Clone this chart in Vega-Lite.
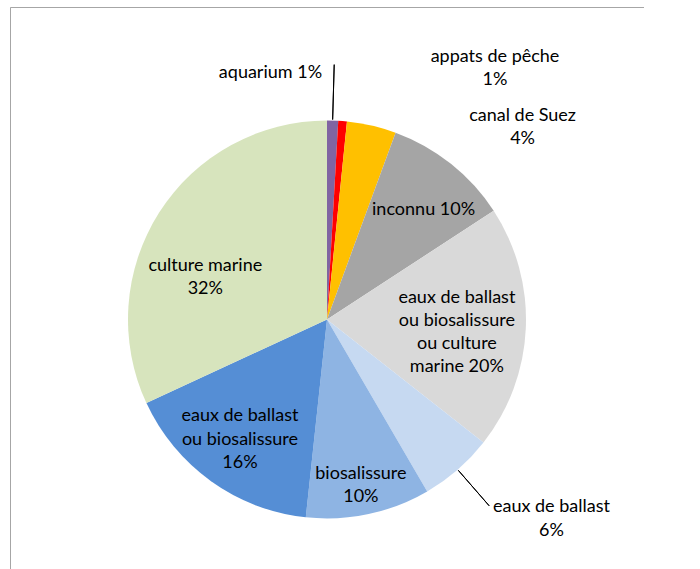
{
  "$schema": "https://vega.github.io/schema/vega-lite/v6.json",
  "usermeta": {"embedOptions": {"actions": false}},
  "autosize": {"type": "none"},
  "padding": {"left": 10, "top": 7, "right": 0, "bottom": 0},
  "width": 634,
  "height": 625,
  "view": {"stroke": "#A6A6A6", "strokeWidth": 1, "strokeDash": [634, 1259, 625]},
  "background": "white",
  "data": {
    "values": [
      {"source": "aquarium", "value": 0.9, "label": "aquarium 1%"},
      {"source": "appats de pêche", "value": 0.7, "label": "appats de pêche\n1%"},
      {"source": "canal de Suez", "value": 4.0, "label": "canal de Suez\n4%"},
      {"source": "inconnu", "value": 10.2, "label": "inconnu 10%"},
      {"source": "eaux de ballast ou biosalissure ou culture marine", "value": 19.8, "label": "eaux de ballast\nou biosalissure\nou culture\nmarine 20%"},
      {"source": "eaux de ballast", "value": 6.0, "label": "eaux de ballast\n6%"},
      {"source": "biosalissure", "value": 10.1, "label": "biosalissure\n10%"},
      {"source": "eaux de ballast ou biosalissure", "value": 16.4, "label": "eaux de ballast\nou biosalissure\n16%"},
      {"source": "culture marine", "value": 31.9, "label": "culture marine\n32%"}
    ]
  },
  "transform": [
    {"stack": "value", "groupby": [], "as": ["v0", "v1"]},
    {"calculate": "(datum.v0 + datum.v1) / 2", "as": "mid"}
  ],
  "layer": [
    {
      "mark": {"type": "arc", "radius": 199},
      "encoding": {
        "theta": {"field": "v0", "type": "quantitative", "scale": {"domain": [0, 100], "range": [0, 6.283185307]}},
        "theta2": {"field": "v1"},
        "color": {
          "field": "source", "type": "nominal", "legend": null,
          "scale": {
            "domain": ["aquarium", "appats de pêche", "canal de Suez", "inconnu", "eaux de ballast ou biosalissure ou culture marine", "eaux de ballast", "biosalissure", "eaux de ballast ou biosalissure", "culture marine"],
            "range": ["#8064A2", "#FF0000", "#FFC000", "#A5A5A5", "#D9D9D9", "#C6D9F1", "#8EB4E3", "#558ED5", "#D7E4BD"]
          }
        }
      }
    },
    {
      "transform": [{"filter": "datum.source == 'aquarium'"}],
      "mark": {"type": "arc", "radius": 255, "radius2": 200, "fillOpacity": 0, "stroke": "#000000", "strokeWidth": 1},
      "encoding": {
        "theta": {"field": "mid", "type": "quantitative", "stack": null, "scale": {"domain": [0, 100], "range": [0, 6.283185307]}},
        "theta2": {"field": "mid"}
      }
    },
    {
      "transform": [{"filter": "datum.source == 'eaux de ballast'"}],
      "mark": {"type": "arc", "radius": 247, "radius2": 200, "fillOpacity": 0, "stroke": "#000000", "strokeWidth": 1},
      "encoding": {
        "theta": {"field": "mid", "type": "quantitative", "stack": null, "scale": {"domain": [0, 100], "range": [0, 6.283185307]}},
        "theta2": {"field": "mid"}
      }
    },
    {
      "transform": [{"filter": "datum.source == 'aquarium'"}],
      "mark": {"type": "text", "radius": 250, "dx": -12, "dy": 3, "align": "right", "baseline": "middle", "font": "Lato", "fontSize": 18, "lineBreak": "\n", "lineHeight": 23, "fill": "#000000"},
      "encoding": {"theta": {"field": "mid", "type": "quantitative", "stack": null, "scale": {"domain": [0, 100], "range": [0, 6.283185307]}}, "text": {"field": "label"}}
    },
    {
      "transform": [{"filter": "datum.source == 'appats de pêche'"}],
      "mark": {"type": "text", "radius": 255, "dx": 148, "dy": -8, "align": "center", "baseline": "middle", "font": "Lato", "fontSize": 18, "lineBreak": "\n", "lineHeight": 23, "fill": "#000000"},
      "encoding": {"theta": {"field": "mid", "type": "quantitative", "stack": null, "scale": {"domain": [0, 100], "range": [0, 6.283185307]}}, "text": {"field": "label"}}
    },
    {
      "transform": [{"filter": "datum.source == 'canal de Suez'"}],
      "mark": {"type": "text", "radius": 230, "dx": 144, "dy": 21, "align": "center", "baseline": "middle", "font": "Lato", "fontSize": 18, "lineBreak": "\n", "lineHeight": 23, "fill": "#000000"},
      "encoding": {"theta": {"field": "mid", "type": "quantitative", "stack": null, "scale": {"domain": [0, 100], "range": [0, 6.283185307]}}, "text": {"field": "label"}}
    },
    {
      "transform": [{"filter": "datum.source == 'inconnu'"}],
      "mark": {"type": "text", "radius": 147, "dx": 5, "dy": 6, "align": "center", "baseline": "middle", "font": "Lato", "fontSize": 18, "lineBreak": "\n", "lineHeight": 23, "fill": "#000000"},
      "encoding": {"theta": {"field": "mid", "type": "quantitative", "stack": null, "scale": {"domain": [0, 100], "range": [0, 6.283185307]}}, "text": {"field": "label"}}
    },
    {
      "transform": [{"filter": "datum.source == 'eaux de ballast ou biosalissure ou culture marine'"}],
      "mark": {"type": "text", "radius": 130, "dx": 0, "dy": -27, "align": "center", "baseline": "middle", "font": "Lato", "fontSize": 18, "lineBreak": "\n", "lineHeight": 23, "fill": "#000000"},
      "encoding": {"theta": {"field": "mid", "type": "quantitative", "stack": null, "scale": {"domain": [0, 100], "range": [0, 6.283185307]}}, "text": {"field": "label"}}
    },
    {
      "transform": [{"filter": "datum.source == 'eaux de ballast'"}],
      "mark": {"type": "text", "radius": 255, "dx": 57, "dy": -5, "align": "center", "baseline": "middle", "font": "Lato", "fontSize": 18, "lineBreak": "\n", "lineHeight": 24, "fill": "#000000"},
      "encoding": {"theta": {"field": "mid", "type": "quantitative", "stack": null, "scale": {"domain": [0, 100], "range": [0, 6.283185307]}}, "text": {"field": "label"}}
    },
    {
      "transform": [{"filter": "datum.source == 'biosalissure'"}],
      "mark": {"type": "text", "radius": 167, "dx": -1, "dy": -9, "align": "center", "baseline": "middle", "font": "Lato", "fontSize": 18, "lineBreak": "\n", "lineHeight": 23, "fill": "#000000"},
      "encoding": {"theta": {"field": "mid", "type": "quantitative", "stack": null, "scale": {"domain": [0, 100], "range": [0, 6.283185307]}}, "text": {"field": "label"}}
    },
    {
      "transform": [{"filter": "datum.source == 'eaux de ballast ou biosalissure'"}],
      "mark": {"type": "text", "radius": 146, "dx": -2, "dy": -22, "align": "center", "baseline": "middle", "font": "Lato", "fontSize": 18, "lineBreak": "\n", "lineHeight": 23.5, "fill": "#000000"},
      "encoding": {"theta": {"field": "mid", "type": "quantitative", "stack": null, "scale": {"domain": [0, 100], "range": [0, 6.283185307]}}, "text": {"field": "label"}}
    },
    {
      "transform": [{"filter": "datum.source == 'culture marine'"}],
      "mark": {"type": "text", "radius": 129, "dx": -13, "dy": 16, "align": "center", "baseline": "middle", "font": "Lato", "fontSize": 18, "lineBreak": "\n", "lineHeight": 23, "fill": "#000000"},
      "encoding": {"theta": {"field": "mid", "type": "quantitative", "stack": null, "scale": {"domain": [0, 100], "range": [0, 6.283185307]}}, "text": {"field": "label"}}
    }
  ]
}
